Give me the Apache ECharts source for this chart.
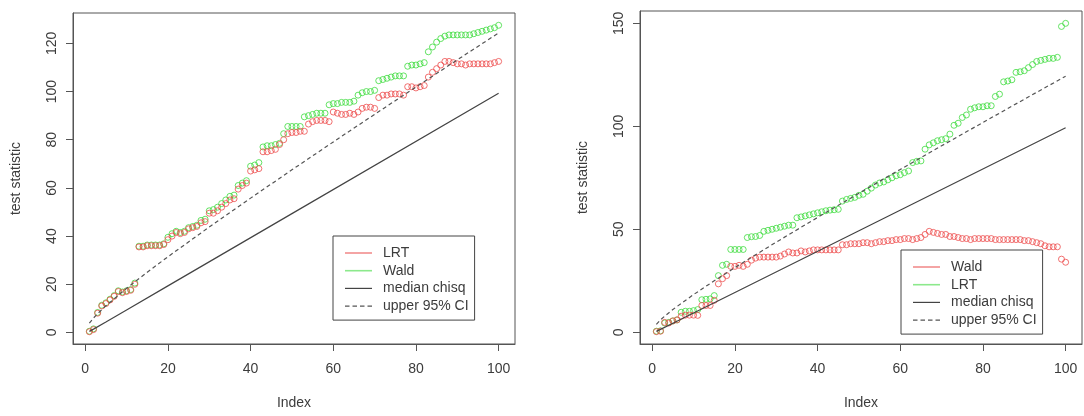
<!DOCTYPE html>
<html>
<head>
<meta charset="utf-8">
<script src="https://cdn.jsdelivr.net/npm/echarts@6/dist/echarts.min.js"></script>
<style>
html,body{margin:0;padding:0;background:#fff;}
#chart{width:1084px;height:416px;}
</style>
</head>
<body>
<div id="chart"></div>
<script>
// ---- Data ----
// Left panel (index 1..100)
var leftLRT = [0.3,1.2,8,11,12,13.5,15,17,16.5,17, 17.5,20,35.5,35.5,36,36,36,36,36.5,38.5, 40,41.5,41,41.5,43,43.5,44,45.5,46,49.5, 49.5,50.5,52,53.5,55,55.5,59.5,61,62,67, 67.5,68,75,75,75.5,76,78,80,82.5,83, 83,83.5,83.5,86.5,87.5,88,88,88,87.5,91.5, 91,90.5,90.5,91,90.5,91.5,93,93.5,93.5,93, 97.5,98.5,98.5,99,99,99,98.5,102,102,101.5, 102,102.5,106,108,109.5,111,112.5,112.5,112,111.5, 111.5,111,111.5,111.5,111.5,111.5,111.5,111.5,112,112.5];
var leftWald = [0.5,1.5,8.3,11.3,12.3,13.8,15.3,17.3,16.8,17.3, 17.8,20.5,35.8,35.8,36.3,36.3,36.3,36.3,36.8,39.5, 41,42,41.5,42,43.5,44,44.5,46.5,47,50.5, 51,52,53.5,55,56.5,57,61,62,63,69, 69.5,70.5,77,77.5,77.5,78,78.5,82.5,85.5,85.5, 85.5,85.5,89.5,90,90.5,91,91,91,94.5,95, 95,95.5,95.5,95.5,96,98.5,99.5,100,100,100.5, 104.5,105,105.5,106,106.5,106.5,106.5,110.5,111,111, 111.5,112,116.5,118.5,120.5,122,123,123.5,123.5,123.5, 123.5,123.5,123.5,124,124.5,125,125.5,126,126.5,127.5];
// Right panel (index 1..100)
var rightWald = [0.3,0.5,4.8,4.5,5.5,6,7.8,8.3,8.3,8.3, 8.2,13,13,13,15.5,23.5,26,27.5,32,32, 32.5,32,33,35,36,36.5,36.5,36.5,36.5,36.5, 37,38,39,38.5,38.5,39.5,39,39.5,40,40, 40,40,40,40,40,42.5,42.5,43,43,43, 43.5,43.5,43,43.5,44,44,44.5,44.5,45,45, 45.5,45.5,45,45.5,46,47.5,49,48.5,48,47.5, 47.5,46.5,46.5,46,45.5,45.5,45,45.5,45.5,45.5, 45.5,45.5,45,45,45,45,45,45,45,44.5, 44.5,44,43.5,43,42,41.5,41.5,41.5,35.5,34];
var rightLRT = [0.5,0.7,4.5,4.8,5.5,6,9.7,10.2,10.2,10.5, 11,15.8,16,16.2,17.8,27.5,32.5,33,40.2,40.2, 40.2,40.2,46,46.4,46.5,47,49,49.5,50,50.5, 51,51.5,52,52,55.6,56,56.5,57,57.5,58, 58.5,59,59.3,59.5,59.7,63.7,64.5,65,65.5,66.5, 67,68.5,70,71.5,72.5,73,74,75,76,76.5, 77.5,78.3,82.4,83,83.2,88.9,91,92,93,93.5, 94,96.2,100.5,101.5,104.3,105.5,108.3,109,109.5,109.5, 110,110,114.5,115.6,121.6,122,122.6,126.2,126.5,127, 128.5,130,131.5,132,132.5,133,133,133.5,148.5,150];
// Reference lines (vertices)
var medIdx = [1,2,5,10,20,50,100];
var medVal = [0.45,1.39,4.35,9.34,19.34,49.33,99.33];
var ciIdx = [1,2,3,5,10,15,20,30,40,50,60,70,80,90,100];
var ciVal = [3.84,5.99,7.81,11.07,18.31,25.0,31.41,43.77,55.76,67.5,79.08,90.53,101.88,113.15,124.34];
// Tick labels
var xTicks = [0,20,40,60,80,100];
var yTicksLeft = [0,20,40,60,80,100,120];
var yTicksRight = [0,50,100,150];
// Legend labels
var legendLeft = ['LRT','Wald','median chisq','upper 95% CI'];
var legendRight = ['Wald','LRT','median chisq','upper 95% CI'];

// ---- Build ----
var RED = '#ee4d4d', GREEN = '#3fdc3f', LINE = '#444444', DLINE = '#555555', TXT = '#3c3c3c';
var LRED = '#ee7070', LGREEN = '#6fe46f';
var FONT = '"Liberation Sans", Arial, Helvetica, sans-serif';
function pts(arr){ return arr.map(function(v,k){ return [k+1, v]; }); }
function pairs(xs, ys){ return xs.map(function(x,k){ return [x, ys[k]]; }); }

function xAxisDef(g){
  return {
    type:'value', gridIndex:g, min:-2.96, max:103.96,
    axisLine:{show:true, onZero:false, lineStyle:{color:'#555', width:1}},
    axisTick:{show:true, customValues:xTicks, length:7, lineStyle:{color:'#555'}},
    axisLabel:{customValues:xTicks, margin:18, color:TXT, fontSize:14, fontFamily:FONT},
    splitLine:{show:false},
    name:'Index', nameLocation:'middle', nameGap:52,
    nameTextStyle:{color:TXT, fontSize:14, fontFamily:FONT}
  };
}
function yAxisDef(g, mn, mx, ticks){
  return {
    type:'value', gridIndex:g, min:mn, max:mx,
    axisLine:{show:true, onZero:false, lineStyle:{color:'#555', width:1}},
    axisTick:{show:true, customValues:ticks, length:7, lineStyle:{color:'#555'}},
    axisLabel:{customValues:ticks, rotate:90, margin:14, color:TXT, fontSize:14, fontFamily:FONT},
    splitLine:{show:false},
    name:'test statistic', nameLocation:'middle', nameGap:50, nameRotate:90,
    nameTextStyle:{color:TXT, fontSize:14, fontFamily:FONT}
  };
}
function scatter(name, arr, color, g){
  return {
    type:'scatter', name:name, xAxisIndex:g, yAxisIndex:g, data:pts(arr),
    symbol:'circle', symbolSize:6,
    itemStyle:{color:'rgba(0,0,0,0)', borderColor:color, borderWidth:1},
    emphasis:{disabled:true}, silent:true
  };
}
function line(name, xs, ys, dashed, g){
  return {
    type:'line', name:name, xAxisIndex:g, yAxisIndex:g, data:pairs(xs, ys),
    symbol:'none', showSymbol:false, smooth:false,
    lineStyle:{color: dashed ? DLINE : LINE, width:1.2, type: dashed ? [4,3] : 'solid'},
    itemStyle:{color: dashed ? DLINE : LINE}, emphasis:{disabled:true}, silent:true
  };
}
var BAR = 'path://M0,0L27,0L27,1.6L0,1.6Z';
var THIN = 'path://M0,0L27,0L27,1.2L0,1.2Z';
var DASH = 'path://M0,0h4.5v1.2h-4.5zM7.5,0h4.5v1.2h-4.5zM15,0h4.5v1.2h-4.5zM22.5,0h4.5v1.2h-4.5z';
function legendItem(name, icon, color){
  return {name:name, icon:icon, itemStyle:{color:color, borderWidth:0, borderColor:color}};
}
function legendDef(left, top, items){
  return {
    left:left, top:top, orient:'vertical',
    padding:[10,6,7,12], itemGap:3.7, itemWidth:27, itemHeight:14,
    borderColor:'#444', borderWidth:1, backgroundColor:'#fff',
    selectedMode:false,
    textStyle:{color:TXT, fontSize:14, fontFamily:FONT, padding:[0,0,0,6]},
    data:items
  };
}

var option = {
  animation:false,
  backgroundColor:'#fff',
  grid:[
    {left:73, top:13, width:442, height:331, show:true, borderColor:'#555', borderWidth:1, backgroundColor:'transparent'},
    {left:640, top:11, width:442, height:333, show:true, borderColor:'#555', borderWidth:1, backgroundColor:'transparent'}
  ],
  xAxis:[ xAxisDef(0), xAxisDef(1) ],
  yAxis:[ yAxisDef(0, -4.79, 132.6, yTicksLeft), yAxisDef(1, -5.7, 156.0, yTicksRight) ],
  legend:[
    legendDef(333, 236, [legendItem(legendLeft[0], BAR, LRED), legendItem(legendLeft[1], BAR, LGREEN), legendItem(legendLeft[2], THIN, LINE), legendItem(legendLeft[3], DASH, DLINE)]),
    legendDef(901, 250, [legendItem(legendRight[0], BAR, LRED), legendItem(legendRight[1], BAR, LGREEN), legendItem(legendRight[2], THIN, LINE), legendItem(legendRight[3], DASH, DLINE)])
  ],
  series:[
    scatter('Wald', leftWald, GREEN, 0),
    scatter('LRT', leftLRT, RED, 0),
    line('median chisq', medIdx, medVal, false, 0),
    line('upper 95% CI', ciIdx, ciVal, true, 0),
    scatter('LRT', rightLRT, GREEN, 1),
    scatter('Wald', rightWald, RED, 1),
    line('median chisq', medIdx, medVal, false, 1),
    line('upper 95% CI', ciIdx, ciVal, true, 1)
  ]
};
var chart = echarts.init(document.getElementById('chart'), null, {renderer:'canvas'});
chart.setOption(option);
</script>
</body>
</html>
